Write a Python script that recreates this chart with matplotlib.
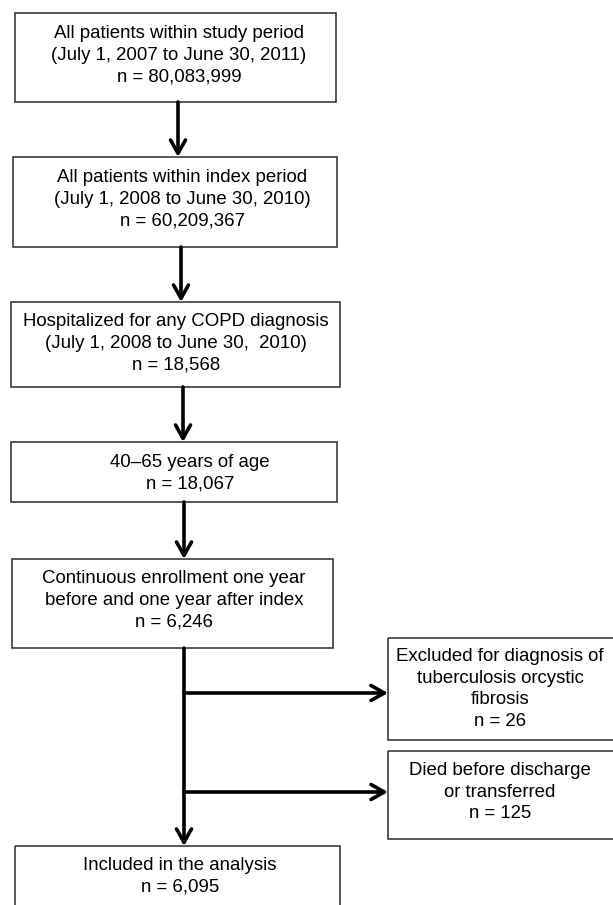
import matplotlib
matplotlib.use("Agg")
import matplotlib.pyplot as plt
from matplotlib.patches import Rectangle

plt.rcParams['font.family'] = ['Liberation Sans', 'DejaVu Sans']

# ---- data ----
main_labels = [
    "All patients within study period\n(July 1, 2007 to June 30, 2011)",
    "All patients within index period\n(July 1, 2008 to June 30, 2010)",
    "Hospitalized for any COPD diagnosis\n(July 1, 2008 to June 30,  2010)",
    "40\u201365 years of age",
    "Continuous enrollment one year\nbefore and one year after index",
    "Included in the analysis",
]
main_counts = ["80,083,999", "60,209,367", "18,568", "18,067", "6,246", "6,095"]
side_labels = [
    "Excluded for diagnosis of\ntuberculosis orcystic\nfibrosis",
    "Died before discharge\nor transferred",
]
side_counts = ["26", "125"]

# ---- layout (pixel coordinates) ----
main_boxes = [  # left, top, right, bottom
    (15, 13, 336, 102),
    (13, 157, 337, 247),
    (11, 302, 340, 387),
    (11, 442, 337, 502),
    (12, 559, 333, 648),
    (15, 846, 340, 915),
]
main_text_xy = [(179, 55), (182, 199), (176, 343), (190, 473), (174, 600), (180, 876)]
arrow_x = [178, 181, 183, 184, 184]
side_boxes = [(388, 638, 616, 740), (388, 751, 616, 839)]
side_text_xy = [(500, 689), (500, 792)]
branch_y = [693, 792]
trunk_x = 184

W, H = 613, 905
fig = plt.figure(figsize=(W / 100, H / 100), dpi=100)
ax = fig.add_axes([0, 0, 1, 1])
ax.set_xlim(0, W)
ax.set_ylim(H, 0)
ax.axis('off')

FS = 13.4
LS = 1.37
box_kw = dict(fill=False, edgecolor='#2b2b2b', linewidth=1.1)
arrow_kw = dict(arrowstyle='->,head_length=0.8,head_width=0.45', color='black',
                lw=2.6, shrinkA=0, shrinkB=0, mutation_scale=12)

for (l, t, r, b), lab, cnt, (tx, ty) in zip(main_boxes, main_labels, main_counts, main_text_xy):
    ax.add_patch(Rectangle((l, t), r - l, b - t, clip_on=False, **box_kw))
    ax.text(tx, ty, f"{lab}\nn = {cnt}", ha='center', va='center', fontsize=FS,
            multialignment='center', linespacing=LS)

for (l, t, r, b), lab, cnt, (tx, ty) in zip(side_boxes, side_labels, side_counts, side_text_xy):
    ax.add_patch(Rectangle((l, t), r - l, b - t, clip_on=False, **box_kw))
    ax.text(tx, ty, f"{lab}\nn = {cnt}", ha='center', va='center', fontsize=FS,
            multialignment='center', linespacing=LS)

# vertical arrows between main boxes
for i, x in enumerate(arrow_x):
    y0 = main_boxes[i][3]
    y1 = main_boxes[i + 1][1]
    ax.annotate('', xy=(x, y1), xytext=(x, y0), arrowprops=arrow_kw)

# horizontal branches
for y, sb in zip(branch_y, side_boxes):
    ax.annotate('', xy=(sb[0], y), xytext=(trunk_x, y), arrowprops=arrow_kw)

fig.savefig('out.png', dpi=100)
